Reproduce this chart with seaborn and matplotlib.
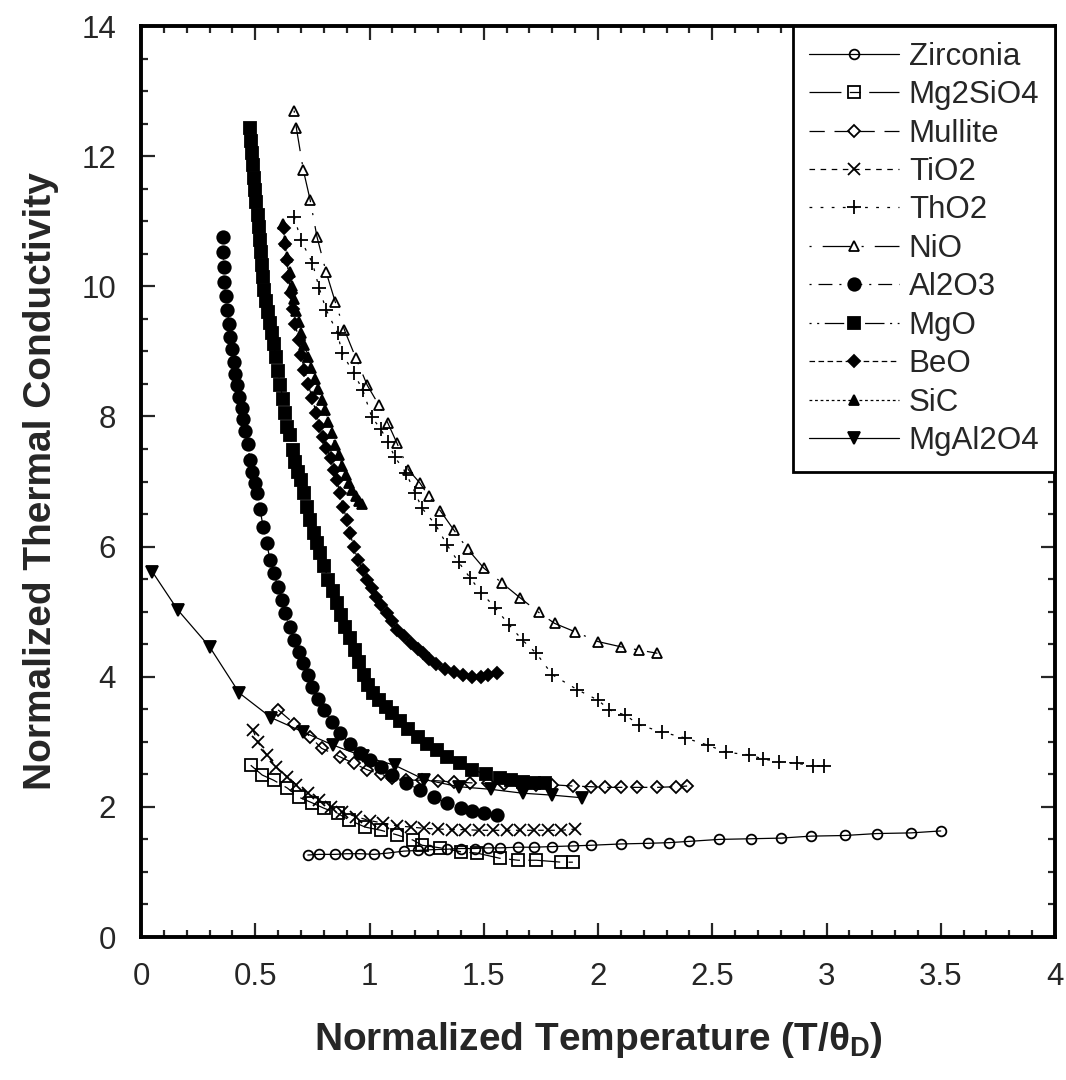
import matplotlib.pyplot as plt
import seaborn as sns
from matplotlib.ticker import MultipleLocator

# values (T/theta_D, normalized k)
zirconia_x = [0.73, 0.78, 0.85, 0.90, 0.96, 1.02, 1.08, 1.15, 1.21, 1.26, 1.34, 1.40, 1.46, 1.52, 1.57,
              1.65, 1.72, 1.80, 1.89, 1.97, 2.10, 2.22, 2.31, 2.40, 2.53, 2.67, 2.80, 2.93, 3.08, 3.22, 3.37, 3.50]
zirconia_y = [1.26, 1.27, 1.27, 1.28, 1.28, 1.27, 1.29, 1.32, 1.33, 1.34, 1.35, 1.36, 1.36, 1.37, 1.37,
              1.38, 1.38, 1.39, 1.40, 1.41, 1.43, 1.44, 1.45, 1.47, 1.50, 1.51, 1.52, 1.55, 1.56, 1.59, 1.60, 1.63]

mg2sio4_x = [0.48, 0.53, 0.58, 0.64, 0.69, 0.75, 0.80, 0.86, 0.91, 0.98, 1.05, 1.12, 1.19, 1.23, 1.31,
             1.40, 1.47, 1.57, 1.65, 1.73, 1.84, 1.89]
mg2sio4_y = [2.64, 2.49, 2.41, 2.29, 2.15, 2.06, 1.98, 1.90, 1.80, 1.69, 1.64, 1.57, 1.49, 1.41, 1.37,
             1.31, 1.29, 1.21, 1.18, 1.18, 1.15, 1.15]

mullite_x = [0.60, 0.67, 0.74, 0.79, 0.87, 0.93, 0.99, 1.05, 1.10, 1.16, 1.23, 1.30, 1.37, 1.44, 1.52,
             1.59, 1.66, 1.73, 1.80, 1.89, 1.97, 2.03, 2.10, 2.17, 2.26, 2.34, 2.39]
mullite_y = [3.49, 3.28, 3.08, 2.90, 2.77, 2.67, 2.57, 2.50, 2.45, 2.41, 2.41, 2.40, 2.38, 2.37, 2.36,
             2.35, 2.35, 2.34, 2.34, 2.32, 2.31, 2.30, 2.30, 2.30, 2.30, 2.31, 2.32]

tio2_x = [0.49, 0.51, 0.55, 0.59, 0.64, 0.68, 0.73, 0.78, 0.83, 0.88, 0.94, 1.00, 1.06, 1.12, 1.18,
          1.24, 1.30, 1.36, 1.42, 1.48, 1.54, 1.60, 1.66, 1.72, 1.78, 1.84, 1.90]
tio2_y = [3.18, 3.00, 2.80, 2.62, 2.46, 2.34, 2.21, 2.10, 2.00, 1.92, 1.85, 1.79, 1.75, 1.71, 1.69,
          1.67, 1.66, 1.65, 1.65, 1.64, 1.64, 1.64, 1.64, 1.64, 1.64, 1.64, 1.66]

tho2_x = [0.67, 0.70, 0.75, 0.78, 0.81, 0.86, 0.88, 0.93, 0.97, 1.01, 1.05, 1.08, 1.11, 1.16, 1.20,
          1.23, 1.29, 1.34, 1.39, 1.44, 1.49, 1.55, 1.61, 1.67, 1.73, 1.80, 1.91, 2.00, 2.05, 2.12,
          2.18, 2.28, 2.38, 2.48, 2.56, 2.66, 2.72, 2.79, 2.87, 2.94, 2.99]
tho2_y = [11.07, 10.71, 10.36, 9.97, 9.64, 9.28, 8.97, 8.67, 8.41, 7.99, 7.80, 7.61, 7.38, 7.13, 6.82,
          6.59, 6.33, 6.02, 5.76, 5.52, 5.29, 5.06, 4.80, 4.56, 4.36, 4.03, 3.80, 3.64, 3.49, 3.41,
          3.26, 3.15, 3.06, 2.95, 2.84, 2.80, 2.74, 2.69, 2.67, 2.63, 2.63]

nio_x = [0.67, 0.68, 0.71, 0.74, 0.77, 0.81, 0.85, 0.89, 0.94, 0.99, 1.04, 1.08, 1.12, 1.17, 1.22,
         1.26, 1.31, 1.37, 1.43, 1.50, 1.58, 1.66, 1.74, 1.81, 1.90, 2.00, 2.10, 2.18, 2.26]
nio_y = [12.70, 12.43, 11.79, 11.33, 10.76, 10.22, 9.76, 9.33, 8.90, 8.48, 8.18, 7.90, 7.59, 7.18, 6.98,
         6.77, 6.55, 6.25, 5.96, 5.67, 5.44, 5.21, 4.99, 4.82, 4.69, 4.54, 4.46, 4.41, 4.36]

al2o3_x = [0.36, 0.36, 0.362, 0.365, 0.37, 0.378, 0.385, 0.39, 0.397, 0.405, 0.413, 0.42, 0.43, 0.44,
           0.448, 0.456, 0.466, 0.477, 0.487, 0.497, 0.507, 0.52, 0.535, 0.55, 0.565, 0.58, 0.60,
           0.615, 0.63, 0.65, 0.67, 0.69, 0.71, 0.73, 0.75, 0.775, 0.80, 0.835, 0.87, 0.915, 0.96,
           1.00, 1.05, 1.10, 1.16, 1.22, 1.28, 1.34, 1.40, 1.45, 1.50, 1.56]
al2o3_y = [10.76, 10.53, 10.30, 10.07, 9.85, 9.63, 9.42, 9.22, 9.03, 8.84, 8.66, 8.48, 8.30, 8.13,
           7.96, 7.78, 7.58, 7.33, 7.15, 6.98, 6.82, 6.58, 6.30, 6.05, 5.79, 5.60, 5.38, 5.18,
           4.98, 4.77, 4.56, 4.38, 4.21, 4.02, 3.84, 3.66, 3.49, 3.30, 3.13, 2.97, 2.83,
           2.72, 2.61, 2.49, 2.37, 2.26, 2.15, 2.06, 1.98, 1.94, 1.91, 1.88]

mgo_x = [0.475, 0.48, 0.485, 0.49, 0.495, 0.50, 0.505, 0.51, 0.515, 0.52, 0.525, 0.53, 0.535, 0.54,
         0.548, 0.556, 0.564, 0.572, 0.58, 0.59, 0.60, 0.61, 0.62, 0.63, 0.64, 0.652, 0.664, 0.676,
         0.688, 0.70, 0.712, 0.725, 0.74, 0.755, 0.77, 0.785, 0.802, 0.82, 0.838, 0.857, 0.875, 0.893,
         0.915, 0.937, 0.955, 0.975, 0.995, 1.015, 1.04, 1.07, 1.10, 1.135, 1.17, 1.21, 1.25, 1.295,
         1.34, 1.395, 1.45, 1.51, 1.57, 1.62, 1.67, 1.72, 1.77]
mgo_y = [12.43, 12.24, 12.05, 11.86, 11.67, 11.48, 11.29, 11.10, 10.91, 10.71, 10.52, 10.33, 10.14, 9.94,
         9.77, 9.61, 9.44, 9.28, 9.11, 8.91, 8.70, 8.48, 8.27, 8.05, 7.84, 7.71, 7.49, 7.30,
         7.15, 7.02, 6.82, 6.61, 6.41, 6.21, 6.05, 5.90, 5.70, 5.49, 5.31, 5.13, 4.95, 4.77,
         4.59, 4.41, 4.22, 4.02, 3.88, 3.75, 3.64, 3.53, 3.44, 3.32, 3.20, 3.07, 2.97, 2.87,
         2.77, 2.67, 2.57, 2.50, 2.44, 2.41, 2.38, 2.37, 2.37]

beo_x = [0.625, 0.63, 0.64, 0.645, 0.655, 0.665, 0.675, 0.69, 0.70, 0.715, 0.73, 0.75, 0.765, 0.78,
         0.795, 0.81, 0.83, 0.845, 0.857, 0.87, 0.885, 0.90, 0.915, 0.93, 0.95, 0.97, 0.99, 1.01,
         1.03, 1.05, 1.075, 1.10, 1.12, 1.15, 1.18, 1.21, 1.235, 1.26, 1.29, 1.33, 1.37, 1.41,
         1.45, 1.49, 1.52, 1.56]
beo_y = [10.90, 10.65, 10.40, 10.15, 9.90, 9.65, 9.42, 9.18, 8.95, 8.72, 8.50, 8.28, 8.06, 7.86,
         7.68, 7.52, 7.36, 7.18, 7.02, 6.82, 6.61, 6.41, 6.21, 6.00, 5.79, 5.64, 5.49, 5.36,
         5.23, 5.10, 4.98, 4.85, 4.72, 4.62, 4.52, 4.43, 4.36, 4.27, 4.20, 4.12, 4.07, 4.03,
         4.00, 4.00, 4.02, 4.05]

sic_x = [0.62, 0.63, 0.64, 0.65, 0.66, 0.67, 0.68, 0.69, 0.70, 0.715, 0.73, 0.745, 0.76, 0.775,
         0.79, 0.805, 0.82, 0.835, 0.85, 0.865, 0.88, 0.895, 0.91, 0.925, 0.94, 0.955, 0.965]
sic_y = [10.95, 10.70, 10.45, 10.22, 10.00, 9.80, 9.62, 9.45, 9.28, 9.10, 8.92, 8.75, 8.58, 8.42,
         8.26, 8.10, 7.92, 7.74, 7.56, 7.40, 7.24, 7.10, 6.98, 6.87, 6.78, 6.70, 6.65]

mgal2o4_x = [0.05, 0.16, 0.30, 0.43, 0.57, 0.71, 0.84, 0.97, 1.11, 1.24, 1.39, 1.53, 1.67, 1.80, 1.93]
mgal2o4_y = [5.61, 5.03, 4.46, 3.75, 3.37, 3.15, 2.95, 2.78, 2.64, 2.42, 2.31, 2.27, 2.21, 2.18, 2.14]

materials = ["Zirconia", "Mg2SiO4", "Mullite", "TiO2", "ThO2", "NiO",
             "Al2O3", "MgO", "BeO", "SiC", "MgAl2O4"]
xs = [zirconia_x, mg2sio4_x, mullite_x, tio2_x, tho2_x, nio_x,
      al2o3_x, mgo_x, beo_x, sic_x, mgal2o4_x]
ys = [zirconia_y, mg2sio4_y, mullite_y, tio2_y, tho2_y, nio_y,
      al2o3_y, mgo_y, beo_y, sic_y, mgal2o4_y]

# marker, size, filled, dash pattern
styles = {
    "Zirconia": ("o", 7, False, "-"),
    "Mg2SiO4": ("s", 8, False, (0, (23, 6, 8, 6))),
    "Mullite": ("D", 6.5, False, (0, (11, 7))),
    "TiO2": ("x", 8, False, (0, (4, 4))),
    "ThO2": ("+", 10, False, (0, (2, 6))),
    "NiO": ("^", 7.5, False, (0, (1.5, 8, 20, 8))),
    "Al2O3": ("o", 9, True, (0, (1.5, 5, 10, 5))),
    "MgO": ("s", 8.5, True, (0, (1.5, 4, 1.5, 4, 14, 4))),
    "BeO": ("D", 6, True, (0, (4, 2.5))),
    "SiC": ("^", 7.5, True, (0, (2, 2))),
    "MgAl2O4": ("v", 8, True, "-"),
}

sns.set_theme(style="ticks")
plt.rcParams['font.family'] = ['Liberation Sans', 'DejaVu Sans']
plt.rcParams['mathtext.fontset'] = 'custom'
plt.rcParams['mathtext.rm'] = 'Liberation Sans:bold'
plt.rcParams['mathtext.it'] = 'Liberation Sans:bold'
plt.rcParams['mathtext.bf'] = 'Liberation Sans:bold'
plt.rcParams['lines.scale_dashes'] = False

fig = plt.figure(figsize=(10.66, 10.8), dpi=100)
ax = fig.add_axes([0.1323, 0.1324, 0.8574, 0.8435])

for name, x, y in zip(materials, xs, ys):
    mk, ms, filled, ls = styles[name]
    sns.lineplot(x=x, y=y, ax=ax, sort=False, estimator=None, label=name,
                 color="black", linewidth=0.9, linestyle=ls,
                 marker=mk, markersize=ms,
                 markerfacecolor="black" if filled else "none",
                 markeredgecolor="black", markeredgewidth=1.3)

ax.set_xlim(0, 4)
ax.set_ylim(0, 14)
ax.xaxis.set_major_locator(MultipleLocator(0.5))
ax.xaxis.set_minor_locator(MultipleLocator(0.1))
ax.yaxis.set_major_locator(MultipleLocator(2))
ax.yaxis.set_minor_locator(MultipleLocator(0.5))
ax.set_xticks([0, 0.5, 1, 1.5, 2, 2.5, 3, 3.5, 4])
ax.set_xticklabels(["0", "0.5", "1", "1.5", "2", "2.5", "3", "3.5", "4"])
ax.tick_params(which="both", direction="in", top=True, right=True, labelsize=22.5, pad=18, width=1.6)
ax.tick_params(which="major", length=10)
ax.tick_params(which="minor", length=5)
for sp in ax.spines.values():
    sp.set_linewidth(2.8)
    sp.set_color("black")

ax.set_xlabel(r"Normalized Temperature (T/$\theta_D$)", fontsize=28, fontweight="bold", labelpad=20)
ax.set_ylabel("Normalized Thermal Conductivity", fontsize=28, fontweight="bold", labelpad=16)

leg = ax.legend(loc="upper right", borderaxespad=0, fontsize=22.5, frameon=True, fancybox=False,
                framealpha=1, edgecolor="black", handlelength=2.9, handletextpad=0.3,
                labelspacing=0.27, borderpad=0.5, numpoints=1)
leg.get_frame().set_linewidth(2)

fig.savefig("out.png", dpi=100, facecolor="white")
